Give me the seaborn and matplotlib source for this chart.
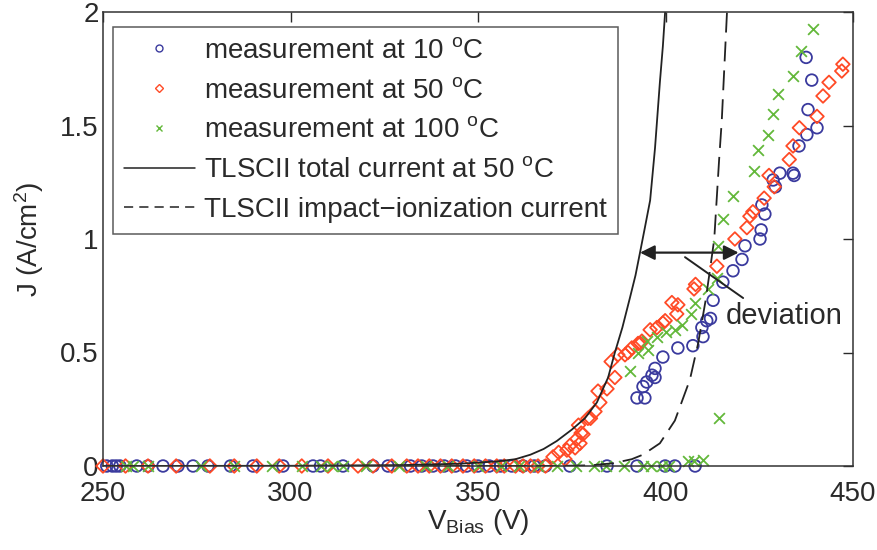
import matplotlib
matplotlib.use("Agg")
import matplotlib.pyplot as plt
import seaborn as sns
import pandas as pd
from matplotlib.lines import Line2D

# ---------------- data ----------------
v10 = [251, 252.5, 253.5, 254.5, 259, 262, 266, 270, 274, 278, 284, 290, 298, 306, 308, 314,
       322, 326, 332, 335, 338, 341, 344, 347, 350, 353, 356, 359, 362, 365, 368, 374.5,
       384.4, 392.4, 399.9, 402.5, 407.9,
       392.4, 394.5, 394, 395, 397.2, 396.4, 397.2, 399.3, 403.3, 407.3, 410, 409.7, 411, 412,
       412.7, 415.3, 418, 420.4, 421.2, 425.2, 425.5, 426.5, 425.7, 429.3, 428.7, 430.5, 434,
       434.3, 435.6, 437.7, 440.4, 438, 439, 437.5]
j10 = [0] * 37 + [
       0.30, 0.30, 0.35, 0.37, 0.39, 0.40, 0.43, 0.48, 0.52, 0.53, 0.57, 0.61, 0.64, 0.65,
       0.73, 0.81, 0.86, 0.91, 0.97, 1.00, 1.04, 1.11, 1.15, 1.23, 1.26, 1.29, 1.29,
       1.28, 1.41, 1.46, 1.49, 1.57, 1.70, 1.80]

v50 = [250, 256, 262, 269.5, 278.5, 285, 291, 297, 303, 310, 318, 322, 327, 331, 334, 337,
       340, 343, 346, 349, 352, 355, 357, 360, 362, 364, 366, 368,
       370, 371.5, 373.2, 373.7, 374.5, 375.9, 376.4, 377.2, 377.5, 378, 376.8, 379.3, 380,
       381.2, 382.5, 382, 384.4, 386.5, 385.5, 387.3, 389.2, 390, 391, 392.7, 393.3, 393.7,
       395.9, 397.7, 399.3, 399.9, 401.7, 403, 403.3, 407.6, 408, 413.7, 418.5, 421.7, 422.5,
       423.3, 426.3, 429, 427.6, 433, 434, 435.7, 440.4, 442, 443.6, 447, 447.3]
j50 = [0] * 28 + [
       0.04, 0.06, 0.03, 0.07, 0.09, 0.08, 0.12, 0.10, 0.145, 0.14, 0.18, 0.21, 0.21,
       0.24, 0.28, 0.33, 0.34, 0.39, 0.46, 0.49, 0.49, 0.50, 0.52, 0.54, 0.54, 0.55,
       0.60, 0.61, 0.63, 0.64, 0.72, 0.67, 0.71, 0.78, 0.80, 0.88, 1.00, 1.05, 1.10,
       1.12, 1.18, 1.23, 1.28, 1.35, 1.41, 1.49, 1.54, 1.63, 1.69, 1.74, 1.77]

v100 = [256, 258, 262, 276, 285, 295, 303, 308, 311, 314, 320, 329, 336, 342, 350, 356, 361,
        366, 371, 376, 381, 384, 389, 394, 396, 399, 401, 406, 410, 407.5,
        390.5, 392.7, 395.4, 395, 397.7, 400.1, 402.5, 404.4, 406.8, 407.9, 411.4, 413.7, 414,
        414.3, 415.3, 418, 423.6, 424.7, 427.3, 428.7, 430, 434, 436.1, 439.3]
j100 = [0] * 27 + [0.02, 0.026, 0.02,
        0.42, 0.50, 0.51, 0.55, 0.57, 0.59, 0.60, 0.62, 0.67, 0.72, 0.78, 0.83, 0.97,
        0.21, 1.09, 1.19, 1.30, 1.39, 1.46, 1.55, 1.64, 1.72, 1.83, 1.925]

v_total = [250, 300, 330, 345, 355, 360, 364, 367.5, 371, 375, 378.5, 381.7, 384.7, 386.5,
           388.5, 390.5, 392, 393.2, 394.5, 395.9, 397.2, 398.5, 399.3, 399.9, 400.3]
j_total = [0.0, 0.001, 0.004, 0.01, 0.02, 0.03, 0.05, 0.075, 0.11, 0.16, 0.21, 0.28, 0.39,
           0.50, 0.61, 0.74, 0.84, 0.94, 1.05, 1.17, 1.40, 1.69, 1.85, 2.0, 2.1]

v_ii = [250, 370, 380, 386, 391, 394, 398.5, 402.5, 406.5, 408.7, 410.7, 412, 413, 414.3,
        415, 416.4, 416.8]
j_ii = [0, 0, 0.003, 0.012, 0.03, 0.05, 0.10, 0.20, 0.38, 0.54, 0.73, 0.88, 1.0, 1.35,
        1.52, 2.0, 2.1]

labels = ["measurement at 10 $^\\mathrm{o}$C",
          "measurement at 50 $^\\mathrm{o}$C",
          "measurement at 100 $^\\mathrm{o}$C",
          "TLSCII total current at 50 $^\\mathrm{o}$C",
          "TLSCII impact\u2212ionization current"]
x_ticks = [250, 300, 350, 400, 450]
y_ticks = [0, 0.5, 1, 1.5, 2]
y_tick_labels = ["0", "0.5", "1", "1.5", "2"]

# ---------------- style ----------------
sns.set_theme(style="white")
plt.rcParams["font.family"] = ["Liberation Sans", "DejaVu Sans"]
plt.rcParams["mathtext.fontset"] = "custom"
plt.rcParams["mathtext.rm"] = "Liberation Sans"
plt.rcParams["mathtext.it"] = "Liberation Sans:italic"
plt.rcParams["mathtext.bf"] = "Liberation Sans:bold"

c_blue = "#3a3a9e"
c_red = "#ff4a26"
c_green = "#63b83a"
c_line = "#222222"
txt = "#2a2a2a"
FS = 20

fig = plt.figure(figsize=(8.77, 5.5), dpi=100)
ax = fig.add_axes([103 / 877, 84 / 550, 750 / 877, 454 / 550])

df10 = pd.DataFrame({"V": v10, "J": j10})
df50 = pd.DataFrame({"V": v50, "J": j50})
df100 = pd.DataFrame({"V": v100, "J": j100})
dtot = pd.DataFrame({"V": v_total, "J": j_total})
dii = pd.DataFrame({"V": v_ii, "J": j_ii})

sns.lineplot(data=dtot, x="V", y="J", estimator=None, sort=False, color=c_line,
             linewidth=1.3, ax=ax, legend=False)
sns.lineplot(data=dii, x="V", y="J", estimator=None, sort=False, color=c_line,
             linewidth=1.3, ax=ax, legend=False)
ax.lines[-1].set_linestyle((0, (11, 5)))

sns.scatterplot(data=df10, x="V", y="J", marker="o", s=70, facecolors="none",
                edgecolors=c_blue, linewidth=1.3, ax=ax, legend=False)
sns.scatterplot(data=df50, x="V", y="J", marker="D", s=48, facecolors="none",
                edgecolors=c_red, linewidth=1.3, ax=ax, legend=False)
sns.scatterplot(data=df100, x="V", y="J", marker="x", s=60, color=c_green,
                linewidth=1.3, ax=ax, legend=False)
for coll in ax.collections:
    coll.set_clip_on(False)

ax.set_xlim(250, 450)
ax.set_ylim(0, 2)
ax.set_xticks(x_ticks)
ax.set_yticks(y_ticks)
ax.set_yticklabels(y_tick_labels)
ax.tick_params(axis="both", which="both", direction="in", length=7, width=1,
               top=True, right=True, labelsize=FS, colors=txt, pad=3)
ax.tick_params(axis="x", pad=11)
for sp in ax.spines.values():
    sp.set_visible(True)
    sp.set_color("#333333")
    sp.set_linewidth(1.1)
ax.set_xlabel("V$_\\mathrm{Bias}$ (V)", fontsize=FS, color=txt, labelpad=0)
ax.set_ylabel("J (A/cm$^2$)", fontsize=FS, color=txt, labelpad=10)

# annotation: deviation arrow
ax.annotate("", xy=(393.2, 0.94), xytext=(419.5, 0.94),
            arrowprops=dict(arrowstyle="<|-|>", color=c_line, lw=1.6,
                            mutation_scale=22, shrinkA=0, shrinkB=0))
ax.plot([405.2, 420.7], [0.92, 0.74], color=c_line, linewidth=1.4)
ax.text(416.0, 0.66, "deviation", fontsize=FS + 1, color=txt, va="center", ha="left")

handles = [
    Line2D([], [], linestyle="none", marker="o", markersize=5, markerfacecolor="none",
           markeredgecolor=c_blue, markeredgewidth=1),
    Line2D([], [], linestyle="none", marker="D", markersize=4, markerfacecolor="none",
           markeredgecolor=c_red, markeredgewidth=1),
    Line2D([], [], linestyle="none", marker="x", markersize=5, color=c_green,
           markeredgewidth=1),
    Line2D([], [], color=c_line, linewidth=1.1),
    Line2D([], [], color=c_line, linewidth=1.1, linestyle=(0, (6, 4))),
]
leg = ax.legend(handles, labels, loc="upper left", bbox_to_anchor=(0.013, 0.968),
                fontsize=FS, frameon=True, fancybox=False, handlelength=2.55,
                handletextpad=0.35, labelspacing=0.5, borderpad=0.4, borderaxespad=0)
leg.get_frame().set_edgecolor("#333333")
leg.get_frame().set_linewidth(1.1)
for t in leg.get_texts():
    t.set_color(txt)

fig.savefig("out.png", dpi=100)
